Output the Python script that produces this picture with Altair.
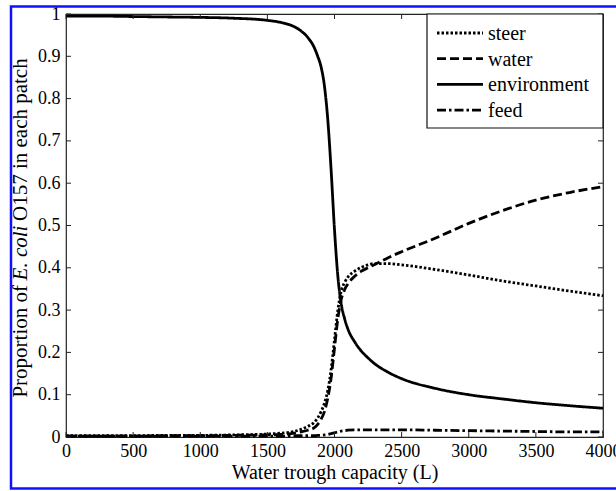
import altair as alt
import pandas as pd

# ---------------- data ----------------
capacity = [0, 250, 500, 750, 1000, 1250, 1500, 1600, 1700, 1750, 1800, 1850, 1875, 1900,
            1925, 1950, 1975, 2000, 2025, 2050, 2075, 2100, 2150, 2200, 2250, 2300, 2400,
            2500, 2750, 3000, 3250, 3500, 3750, 4000]

steer = [0.003, 0.003, 0.003, 0.004, 0.004, 0.005, 0.007, 0.009, 0.013, 0.018, 0.025, 0.035,
         0.045, 0.06, 0.08, 0.11, 0.16, 0.23, 0.3, 0.345, 0.365, 0.378, 0.392, 0.401, 0.407,
         0.41, 0.41, 0.407, 0.396, 0.383, 0.369, 0.357, 0.345, 0.334]

water = [0.002, 0.002, 0.002, 0.003, 0.003, 0.004, 0.005, 0.006, 0.009, 0.012, 0.016, 0.022,
         0.03, 0.042, 0.06, 0.092, 0.14, 0.21, 0.28, 0.325, 0.348, 0.362, 0.38, 0.392, 0.4,
         0.408, 0.424, 0.438, 0.47, 0.505, 0.535, 0.56, 0.578, 0.592]

environment = [0.995, 0.995, 0.994, 0.993, 0.992, 0.99, 0.985, 0.98, 0.97, 0.96, 0.945, 0.92,
               0.9, 0.875, 0.83, 0.75, 0.63, 0.49, 0.38, 0.315, 0.28, 0.255, 0.225, 0.203,
               0.187, 0.173, 0.153, 0.138, 0.115, 0.1, 0.09, 0.081, 0.074, 0.068]

feed = [0.002, 0.002, 0.002, 0.002, 0.002, 0.002, 0.002, 0.002, 0.003, 0.003, 0.003, 0.003,
        0.004, 0.004, 0.005, 0.006, 0.008, 0.01, 0.012, 0.014, 0.015, 0.016, 0.017, 0.017,
        0.017, 0.017, 0.017, 0.017, 0.016, 0.015, 0.014, 0.013, 0.012, 0.012]

series_names = ["steer", "water", "environment", "feed"]
x_ticks = [0, 500, 1000, 1500, 2000, 2500, 3000, 3500, 4000]
y_ticks = [0, 0.1, 0.2, 0.3, 0.4, 0.5, 0.6, 0.7, 0.8, 0.9, 1]

x_title = "Water trough capacity (L)"
y_title_start = "Proportion of"
y_title_italic = "E. coli"
y_title_end = "O157 in each patch"

# ---------------- tables ----------------
rows = []
for name, vals in zip(series_names, [steer, water, environment, feed]):
    for c, v in zip(capacity, vals):
        rows.append({"capacity": c, "proportion": v, "series": name})
df = pd.DataFrame(rows)
xt_df = pd.DataFrame({"capacity": x_ticks})
yt_df = pd.DataFrame({"proportion": y_ticks})
leg_df = pd.DataFrame({"series": series_names})
one = pd.DataFrame({"k": [0]})

# ---------------- styling ----------------
W, H = 537, 423
FONT = "Liberation Serif"
TICK = 5

xscale = alt.Scale(domain=[0, 4000], nice=False, zero=False)
yscale = alt.Scale(domain=[0, 1], nice=False, zero=False)
x_axis = alt.Axis(values=x_ticks, format="d", title=x_title, labelFontSize=18,
                  labelPadding=5, titleFontSize=20, titlePadding=2, titleFontWeight="normal",
                  labelFlush=False, labelOverlap=False, ticks=False, tickSize=0, domain=False,
                  grid=False)
y_axis = alt.Axis(values=y_ticks, format=".1~f", title=None, labelFontSize=18,
                  labelPadding=6, labelFlush=False, labelOverlap=False, ticks=False,
                  tickSize=0, domain=False, grid=False)

dash_scale = alt.Scale(domain=series_names,
                       range=[[2.5, 2], [9, 4], [1, 0], [9, 3, 2.5, 3]])
DASH = alt.StrokeDash("series:N", scale=dash_scale, legend=None)

X = alt.X("capacity:Q", scale=xscale, axis=x_axis)
Y = alt.Y("proportion:Q", scale=yscale, axis=y_axis)

lines = alt.Chart(df).mark_line(color="black", strokeWidth=2.8, interpolate="monotone").encode(
    x=X, y=Y, strokeDash=DASH)

tick_color = "#222222"
bottom_ticks = alt.Chart(xt_df).mark_rule(color=tick_color, strokeWidth=1).encode(
    x=X, y=alt.value(H), y2=alt.value(H - TICK))
top_ticks = alt.Chart(xt_df).mark_rule(color=tick_color, strokeWidth=1).encode(
    x=X, y=alt.value(0), y2=alt.value(TICK))
left_ticks = alt.Chart(yt_df).mark_rule(color=tick_color, strokeWidth=1).encode(
    y=Y, x=alt.value(0), x2=alt.value(TICK))
right_ticks = alt.Chart(yt_df).mark_rule(color=tick_color, strokeWidth=1).encode(
    y=Y, x=alt.value(W), x2=alt.value(W - TICK))

# y-axis title with italic part
TS = 21
yc = 239
ital_half = 27
yt_x = -45
yt1 = alt.Chart(one).mark_text(text=y_title_start, angle=270, align="right", baseline="middle",
                               font=FONT, fontSize=TS, color="black").encode(
    x=alt.value(yt_x), y=alt.value(yc + ital_half + 5))
yt2 = alt.Chart(one).mark_text(text=y_title_italic, angle=270, align="center", baseline="middle",
                               font=FONT, fontSize=TS, fontStyle="italic", color="black").encode(
    x=alt.value(yt_x), y=alt.value(yc))
yt3 = alt.Chart(one).mark_text(text=y_title_end, angle=270, align="left", baseline="middle",
                               font=FONT, fontSize=TS, color="black").encode(
    x=alt.value(yt_x), y=alt.value(yc - ital_half - 5))

# blue page frame
frame = alt.Chart(one).mark_rect(filled=False, stroke="#1010ff", strokeWidth=2.5).encode(
    x=alt.value(-55), x2=alt.value(W + 30), y=alt.value(-7.5), y2=alt.value(H + 51.5))

# legend (MATLAB style box in upper right)
leg_box = alt.Chart(one).mark_rect(fill="white", stroke="#111111", strokeWidth=1.2).encode(
    x=alt.value(361), x2=alt.value(W), y=alt.value(0), y2=alt.value(114))
legend_layers = [leg_box]
LEG_TOP, LEG_STEP = 19, 25.7
for i, name in enumerate(series_names):
    ypos = LEG_TOP + i * LEG_STEP
    legend_layers.append(
        alt.Chart(leg_df).transform_filter(alt.datum.series == name)
        .mark_rule(color="black", strokeWidth=2.8)
        .encode(y=alt.value(ypos), x=alt.value(371), x2=alt.value(417), strokeDash=DASH))
    legend_layers.append(
        alt.Chart(leg_df).transform_filter(alt.datum.series == name)
        .mark_text(align="left", baseline="middle", font=FONT, fontSize=20, color="black")
        .encode(y=alt.value(ypos + 1), x=alt.value(422), text="series:N"))

chart = alt.layer(lines, bottom_ticks, top_ticks, left_ticks, right_ticks, yt1, yt2, yt3,
                  frame, *legend_layers).properties(
    width=W, height=H,
    autosize=alt.AutoSizeParams(type="none"),
    padding={"left": 66, "top": 14, "right": 13, "bottom": 54},
    background="white",
).configure_view(stroke="#222222", strokeWidth=1.2).configure_axis(
    labelFont=FONT, titleFont=FONT, labelColor="black", titleColor="black"
)

chart.save("out.html", embed_options={"renderer": "svg", "actions": False})
